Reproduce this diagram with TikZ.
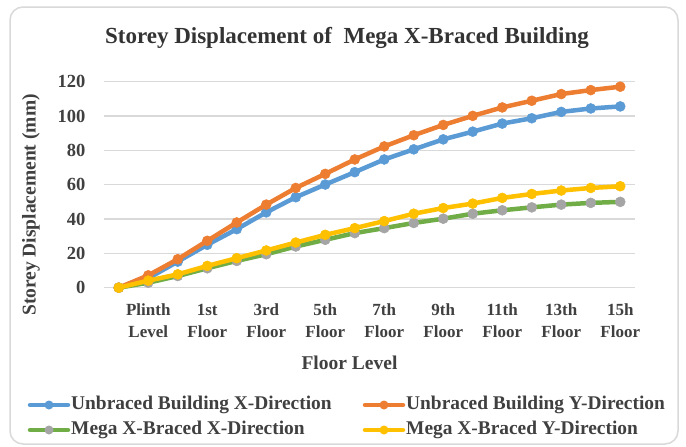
\documentclass[tikz,border=0pt]{standalone}
\usepackage{fontspec}
\setmainfont{Liberation Serif}
\usetikzlibrary{positioning}
\definecolor{unbx}{HTML}{5B9BD5}
\definecolor{unby}{HTML}{ED7D31}
\definecolor{megx}{HTML}{70AD47}
\definecolor{megxmark}{HTML}{A5A5A5}
\definecolor{megy}{HTML}{FFC000}
\definecolor{gridgray}{HTML}{D9D9D9}
\definecolor{labeltext}{HTML}{404040}
% one data series: line colour, marker colour, points
\def\Series#1#2#3{%
  \draw[series line, draw=#1] plot[mark=*, mark options={fill=#2, draw=#2, line width=0.5pt}] coordinates {#3};
}
% legend entry: name, line colour, marker colour, x, y, text
\def\LegendEntry#1#2#3#4#5#6{%
  \coordinate (#1-a) at (#4,#5);
  \coordinate (#1-b) at (#4+38,#5);
  \draw[series line, draw=#2] (#1-a) -- (#1-b);
  \fill[#3] ($(#1-a)!0.5!(#1-b)$) circle (4.5pt);
  \node[legend text] (#1) at (#4+41,#5) {#6};
}
\usetikzlibrary{calc}
\begin{document}
\begin{tikzpicture}[x=1pt, y=-1pt,
    series line/.style={line width=4.5pt, line join=round, line cap=round, mark size=5pt},
    tick label/.style={anchor=east, text=labeltext, font=\bfseries\fontsize{18.5}{20}\selectfont},
    cat label/.style={align=center, text=labeltext, font=\bfseries\fontsize{17}{22}\selectfont},
    axis title/.style={text=labeltext, font=\bfseries\fontsize{19.5}{22}\selectfont},
    legend text/.style={anchor=west, text=labeltext, inner sep=0pt, font=\bfseries\fontsize{19.4}{22}\selectfont}]
\useasboundingbox (0,0) rectangle (686,447);
\fill[white] (0,0) rectangle (686,447);
\draw[gridgray, line width=1.5pt, rounded corners=13pt] (10,7) rectangle (678,444);

\node[text=black!80, font=\bfseries\fontsize{23}{26}\selectfont] (title) at (347,38)
  {Storey Displacement of~ Mega X-Braced Building};

% grid and value axis
\foreach \v [count=\k from 0] in {0,20,...,120} {
  \draw[gridgray, line width=1.5pt] (104,287.7-\k*34.33) -- (635,287.7-\k*34.33);
  \node[tick label] (tick\v) at (89,287.7-\k*34.33) {\v};
}
\node[axis title, rotate=90] (ytitle) at (31,205) {Storey Displacement (mm)};

% category labels on every other floor
\foreach \name [count=\k from 0] in {Plinth\\Level,1st\\Floor,3rd\\Floor,5th\\Floor,7th\\Floor,9th\\Floor,11th\\Floor,13th\\Floor,15h\\Floor}
  \node[cat label] (cat\k) at (104+29.5*2*\k+44.25,321) {\name};
\node[axis title] (xtitle) at (349.5,363) {Floor Level};

\begin{scope}[shift={(104,287.7)}, x=29.5pt, y=1.7167pt]
\Series{unbx}{unbx}{(0.5,0) (1.5,5.5) (2.5,15.2) (3.5,25) (4.5,34.1) (5.5,43.9) (6.5,52.7) (7.5,60.1) (8.5,67.3)
  (9.5,74.7) (10.5,80.6) (11.5,86.4) (12.5,90.9) (13.5,95.6) (14.5,98.7) (15.5,102.4) (16.5,104.4) (17.5,105.6)}
\Series{unby}{unby}{(0.5,0) (1.5,7.2) (2.5,16.6) (3.5,27.3) (4.5,38) (5.5,48.4) (6.5,58.1) (7.5,66.3) (8.5,74.7)
  (9.5,82.3) (10.5,88.8) (11.5,94.8) (12.5,100.1) (13.5,105) (14.5,108.9) (15.5,112.8) (16.5,115.1) (17.5,117.1)}
\Series{megx}{megxmark}{(0.5,0) (1.5,2.9) (2.5,6.8) (3.5,11.3) (4.5,15.6) (5.5,19.5) (6.5,24) (7.5,27.9) (8.5,31.8)
  (9.5,34.7) (10.5,37.7) (11.5,40.2) (12.5,43.1) (13.5,45.1) (14.5,46.8) (15.5,48.4) (16.5,49.4) (17.5,50)}
\Series{megy}{megy}{(0.5,0) (1.5,4.1) (2.5,7.8) (3.5,12.7) (4.5,17.2) (5.5,21.7) (6.5,26.3) (7.5,30.8) (8.5,34.7)
  (9.5,38.8) (10.5,43.1) (11.5,46.4) (12.5,49) (13.5,52.3) (14.5,54.6) (15.5,56.6) (16.5,58.1) (17.5,59.1)}
\end{scope}

% legend
\LegendEntry{legubx}{unbx}{unbx}{30}{405}{Unbraced Building X-Direction}
\LegendEntry{leguby}{unby}{unby}{365}{405}{Unbraced Building Y-Direction}
\LegendEntry{legmgx}{megx}{megxmark}{30}{430}{Mega X-Braced X-Direction}
\LegendEntry{legmgy}{megy}{megy}{365}{430}{Mega X-Braced Y-Direction}
\end{tikzpicture}
\end{document}
